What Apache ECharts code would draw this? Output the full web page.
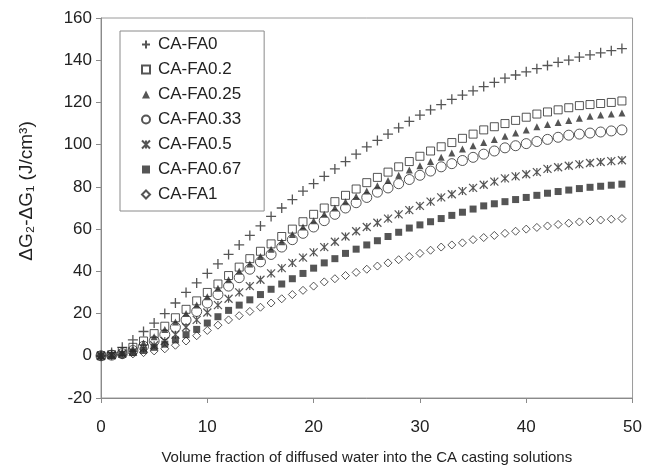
<!DOCTYPE html>
<html>
<head>
<meta charset="utf-8">
<script src="https://cdn.jsdelivr.net/npm/echarts@6/dist/echarts.min.js"></script>
<style>
    html, body { margin: 0; padding: 0; background: #fff; }
    #mainChart { width: 645px; height: 470px; }
</style>
</head>
<body>
<div id="mainChart"></div>
<script>
'use strict';

// volume fraction of diffused water (x)
var waterFraction = [0, 1, 2, 3, 4, 5, 6, 7, 8, 9, 10, 11, 12, 13, 14, 15, 16, 17, 18, 19,
    20, 21, 22, 23, 24, 25, 26, 27, 28, 29, 30, 31, 32, 33, 34, 35, 36, 37, 38, 39,
    40, 41, 42, 43, 44, 45, 46, 47, 48, 49];

// dG2-dG1 (J/cm3)
var caFa0 = [0, 1.5, 4, 7.5, 11.5, 15.5, 20, 25, 30, 34.5, 39, 43.5, 48, 52.5, 57, 61.5, 66, 70, 74, 78,
    81.5, 85, 88.5, 92, 95.5, 99, 102, 105, 108, 111, 114, 116.5, 119, 121.5, 123.5, 125.5, 127.5, 129.5, 131.5, 133,
    134.5, 136, 137.5, 139, 140, 141.5, 142.5, 143.5, 144.5, 145.5];
var caFa02 = [0, 0.5, 2, 4, 7, 10.5, 14, 18, 22, 26, 30, 34, 38, 42, 46, 49.5, 53, 56.5, 60, 63.5,
    67, 70, 73, 76, 79, 82, 84.5, 87, 89.5, 92, 94.5, 97, 99, 101, 103, 105, 107, 108.5, 110, 111.5,
    113, 114.5, 115.5, 116.5, 117.5, 118.5, 119, 119.5, 120, 120.7];
var caFa025 = [0, 0.5, 1.5, 3.5, 6, 9, 12.5, 16, 20, 24, 28, 32, 36, 40, 43.5, 47, 50.5, 54, 57.5, 61,
    64, 67, 70, 73, 75.5, 78, 80.5, 83, 85.5, 88, 90, 92, 94, 96, 98, 99.5, 101, 102.5, 104, 105.5,
    107, 108.5, 109.5, 110.5, 111.5, 112.5, 113.5, 114, 114.5, 115];
var caFa033 = [0, 0.3, 1, 2.5, 4.5, 7, 10, 13.5, 17, 21, 25, 29, 33, 37, 41, 44.5, 48, 51.5, 55, 58,
    61, 64, 67, 70, 72.5, 75, 77.5, 79.5, 81.5, 83.5, 85.5, 87.5, 89.5, 91, 92.5, 94, 95.5, 97, 98.5, 99.5,
    100.5, 101.5, 102.5, 103.5, 104.5, 105, 105.5, 106, 106.5, 107];
var caFa05 = [0, 0.3, 1, 2, 3.5, 5, 7, 10, 13.5, 17, 20.5, 24, 27, 30, 33, 36, 39, 41.5, 44, 46.5,
    49, 51.5, 54, 56.5, 59, 61, 63, 65, 67, 69, 71, 73, 75, 76.5, 78, 79.5, 81, 82.5, 84, 85,
    86, 87, 88.5, 89.3, 90, 90.7, 91.3, 91.8, 92.2, 92.6];
var caFa067 = [0, 0.2, 0.7, 1.5, 2.5, 4, 5.5, 7.5, 10, 12.5, 15.5, 18.5, 21.5, 24, 26.5, 29, 31.5, 34, 36.5, 39,
    41.5, 44, 46, 48.5, 50.5, 52.5, 54.5, 56.5, 58.5, 60.5, 62, 63.5, 65, 66.5, 68, 69.5, 71, 72, 73, 74,
    75, 76, 77, 77.8, 78.5, 79.2, 79.8, 80.3, 80.8, 81.3];
var caFa1 = [0, 0.1, 0.4, 0.9, 1.5, 2.3, 3.3, 5, 7, 9.5, 12, 14.5, 17, 19, 21, 23, 25, 27, 29, 31,
    33, 35, 36.5, 38, 39.5, 41, 42.5, 44, 45.5, 47, 48.5, 50, 51.5, 52.5, 53.5, 55, 56, 57, 58, 59,
    60, 60.8, 61.5, 62.2, 62.8, 63.4, 63.9, 64.3, 64.7, 65];

var seriesNames = ['CA-FA0', 'CA-FA0.2', 'CA-FA0.25', 'CA-FA0.33', 'CA-FA0.5', 'CA-FA0.67', 'CA-FA1'];
var yTickLabels = ['-20', '0', '20', '40', '60', '80', '100', '120', '140', '160'];

window.onload = function() {
    var myChart = echarts.init(document.getElementById('mainChart'));

    function pairs(values) {
        var out = [];
        for (var i = 0; i < values.length; i++) {
            out.push([waterFraction[i], values[i]]);
        }
        return out;
    }

    // marker shapes like the excel markers
    var plusPath = 'path://M0,5L10,5M5,0L5,10';
    var starPath = 'path://M0,0L10,10M10,0L0,10M5,0L5,10';
    var ink = '#2a2a2a';

    function scatter(name, values, symbol, size, filled, lineW) {
        return {
            name: name,
            type: 'scatter',
            data: pairs(values),
            symbol: symbol,
            symbolSize: size,
            animation: false,
            itemStyle: filled ? { color: ink, borderWidth: 0 } :
                { color: 'rgba(255,255,255,0)', borderColor: ink, borderWidth: lineW || 1 },
            emphasis: { disabled: true }
        };
    }

    var option = {
        backgroundColor: '#fff',
        textStyle: { fontFamily: 'Liberation Sans, Arial, sans-serif' },
        grid: {
            left: 101, right: 9, top: 18, bottom: 69,
            show: true, borderColor: '#9a9a9a', borderWidth: 1
        },
        legend: {
            orient: 'vertical',
            left: 120, top: 31,
            padding: [5, 23, 8, 21],
            itemWidth: 8, itemHeight: 8, itemGap: 8,
            backgroundColor: '#fff',
            borderColor: '#8a8a8a', borderWidth: 1, borderRadius: 0,
            textStyle: { fontSize: 17, color: '#222', padding: [0, 0, 0, 3], fontFamily: 'Liberation Sans, Arial, sans-serif' },
            data: seriesNames
        },
        xAxis: {
            type: 'value',
            min: 0, max: 50, interval: 10,
            name: 'Volume fraction of diffused water into the CA casting solutions',
            nameLocation: 'middle',
            nameGap: 52,
            nameTextStyle: { fontSize: 15, color: '#222' },
            axisLine: { onZero: false, lineStyle: { color: '#8a8a8a', width: 1 } },
            axisTick: { inside: false, length: 5, lineStyle: { color: '#8a8a8a' } },
            axisLabel: { fontSize: 17, color: '#222', margin: 21 },
            splitLine: { show: false }
        },
        yAxis: {
            type: 'value',
            min: -20, max: 160, interval: 20,
            name: 'ΔG₂-ΔG₁ (J/cm³)',
            nameLocation: 'middle',
            nameGap: 65,
            nameTextStyle: { fontSize: 19, color: '#222', padding: [0, 0, 0, 34] },
            axisLine: { lineStyle: { color: '#8a8a8a', width: 1 } },
            axisTick: { length: 5, lineStyle: { color: '#8a8a8a' } },
            axisLabel: {
                fontSize: 17, color: '#222', margin: 9,
                formatter: function(v) { return yTickLabels[(v + 20) / 20]; }
            },
            splitLine: { show: false }
        },
        series: [
            scatter(seriesNames[0], caFa0, plusPath, 10, false, 1.3),
            scatter(seriesNames[1], caFa02, 'rect', 8, false, 1),
            scatter(seriesNames[2], caFa025, 'triangle', 7, true),
            scatter(seriesNames[3], caFa033, 'circle', 10, false, 1),
            scatter(seriesNames[4], caFa05, starPath, 8, false, 1.2),
            scatter(seriesNames[5], caFa067, 'rect', 7, true),
            scatter(seriesNames[6], caFa1, 'diamond', 8, false, 1)
        ]
    };

    myChart.setOption(option);
};
</script>
</body>
</html>
